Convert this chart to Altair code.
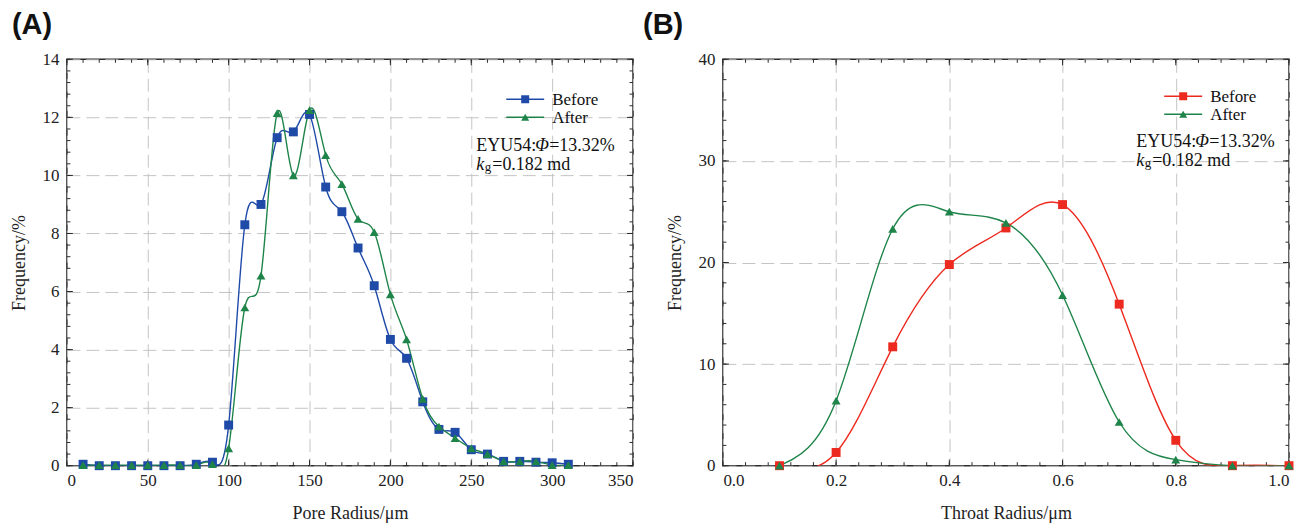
import altair as alt
import pandas as pd

# ---------------- data ----------------
series = ["Before", "After"]

pore_radius = [10, 20, 30, 40, 50, 60, 70, 80, 90, 100, 110, 120, 130, 140, 150, 160,
               170, 180, 190, 200, 210, 220, 230, 240, 250, 260, 270, 280, 290, 300, 310]
pore_before = [0.05, 0.0, 0.0, 0.0, 0.0, 0.0, 0.0, 0.05, 0.12, 1.4, 8.3, 9.0, 11.3, 11.5, 12.1, 9.6,
               8.75, 7.5, 6.2, 4.35, 3.7, 2.2, 1.25, 1.15, 0.55, 0.4, 0.15, 0.15, 0.12, 0.1, 0.05]
pore_after = [0.02, 0.02, 0.02, 0.02, 0.02, 0.02, 0.02, 0.02, 0.05, 0.6, 5.45, 6.55, 12.15, 10.0, 12.25, 10.7,
              9.7, 8.5, 8.05, 5.9, 4.35, 2.3, 1.35, 0.95, 0.6, 0.4, 0.15, 0.15, 0.15, 0.02, 0.02]

throat_radius = [0.1, 0.2, 0.3, 0.4, 0.5, 0.6, 0.7, 0.8, 0.9, 1.0]
throat_before = [0.0, 1.3, 11.7, 19.8, 23.4, 25.7, 15.9, 2.5, 0.0, 0.0]
throat_after = [0.0, 6.4, 23.3, 25.0, 23.9, 16.8, 4.3, 0.6, 0.0, 0.0]

pore_xticks = [0, 50, 100, 150, 200, 250, 300, 350]
pore_yticks = [0, 2, 4, 6, 8, 10, 12, 14]
throat_xticks = [0.0, 0.2, 0.4, 0.6, 0.8, 1.0]
throat_yticks = [0, 10, 20, 30, 40]

pore_xminor = [v for v in range(0, 351, 10)]
pore_yminor = [round(v * 0.4, 2) for v in range(0, 36)]
throat_xminor = [round(v * 0.04, 2) for v in range(0, 26)]
throat_yminor = [v for v in range(0, 41, 2)]

W, H = 567, 407
SERIF = "Liberation Serif"
FRAME = "#2b2b2b"
SHAPES = {"Before": "square", "After": "triangle-up"}


def panel(x, before, after, colors, xdomain, ydomain, xmaj, xmin, ymaj, ymin,
          xtitle, xfmt, label, label_dx, leg_cx, leg_cy, ann_x, ann_y):
    df = pd.DataFrame({
        "x": list(x) * 2,
        "y": list(before) + list(after),
        "series": ["Before"] * len(x) + ["After"] * len(x),
    })
    xs = alt.Scale(domain=xdomain, nice=False, zero=False)
    ys = alt.Scale(domain=ydomain, nice=False, zero=False)
    cscale = alt.Scale(domain=series, range=colors)
    cmap = dict(zip(series, colors))

    xaxis = alt.Axis(values=xmaj, format=xfmt, title=xtitle, grid=True, ticks=False,
                     domain=False, labelPadding=7, titlePadding=16)
    yaxis = alt.Axis(values=ymaj, format="d", title="Frequency/%", grid=True, ticks=False,
                     domain=False, labelPadding=8, titlePadding=13)

    base = alt.Chart(df)
    line = base.mark_line(interpolate="natural", clip=True, strokeWidth=1.4).encode(
        x=alt.X("x:Q", scale=xs, axis=xaxis),
        y=alt.Y("y:Q", scale=ys, axis=yaxis),
        color=alt.Color("series:N", scale=cscale, legend=None),
    )
    pts = []
    for s in series:
        pts.append(base.transform_filter(alt.datum.series == s).mark_point(
            filled=True, opacity=1, shape=SHAPES[s], size=80).encode(
            x=alt.X("x:Q", scale=xs, axis=xaxis),
            y=alt.Y("y:Q", scale=ys, axis=yaxis),
            color=alt.Color("series:N", scale=cscale, legend=None),
        ))

    tick_layers = []
    for vals, L in [(xmaj, 6), (xmin, 3.5)]:
        c = alt.Chart(pd.DataFrame({"v": vals}))
        tick_layers.append(c.mark_rule(color=FRAME, strokeWidth=1).encode(
            x=alt.X("v:Q", scale=xs, axis=xaxis), y=alt.value(H), y2=alt.value(H - L)))
        tick_layers.append(c.mark_rule(color=FRAME, strokeWidth=1).encode(
            x=alt.X("v:Q", scale=xs, axis=xaxis), y=alt.value(0), y2=alt.value(L)))
    for vals, L in [(ymaj, 6), (ymin, 3.5)]:
        c = alt.Chart(pd.DataFrame({"v": vals}))
        tick_layers.append(c.mark_rule(color=FRAME, strokeWidth=1).encode(
            y=alt.Y("v:Q", scale=ys, axis=yaxis), x=alt.value(0), x2=alt.value(L)))
        tick_layers.append(c.mark_rule(color=FRAME, strokeWidth=1).encode(
            y=alt.Y("v:Q", scale=ys, axis=yaxis), x=alt.value(W), x2=alt.value(W - L)))

    one = alt.Chart(pd.DataFrame({"k": [0]}))

    def txt(s, dx, dy, size=18, style="normal", font=SERIF, weight="normal", baseline="alphabetic"):
        return one.mark_text(text=s, align="left", baseline=baseline, font=font,
                             fontSize=size, fontStyle=style, fontWeight=weight,
                             color="#111").encode(x=alt.value(dx), y=alt.value(dy))

    # legend (drawn inside the plot, top right)
    legend_layers = []
    for i, s in enumerate(series):
        cy = leg_cy + i * 18
        legend_layers.append(one.mark_rule(color=cmap[s], strokeWidth=1.5).encode(
            x=alt.value(leg_cx - 19), x2=alt.value(leg_cx + 19), y=alt.value(cy)))
        legend_layers.append(one.mark_point(filled=True, opacity=1, shape=SHAPES[s], size=64,
                                            color=cmap[s]).encode(
            x=alt.value(leg_cx), y=alt.value(cy)))
        legend_layers.append(txt(s, leg_cx + 27, cy + 1, size=17, baseline="middle"))

    ax, ay = ann_x, ann_y
    ann = [
        txt("EYU54:", ax, ay),
        txt("\u03a6", ax + 59, ay, style="italic"),
        txt("=13.32%", ax + 73, ay),
        txt("k", ax, ay + 19, style="italic"),
        txt("g", ax + 8.5, ay + 20, size=13),
        txt("=0.182 md", ax + 16, ay + 19),
        txt(label, label_dx, -25, size=29, font="Liberation Sans", weight="bold"),
    ]

    return alt.layer(*tick_layers, line, *pts, *legend_layers, *ann).properties(
        width=W, height=H)


pA = panel(pore_radius, pore_before, pore_after, ["#1f4aa8", "#1e8449"],
           [0, 350], [0, 14], pore_xticks, pore_xminor, pore_yticks, pore_yminor,
           "Pore Radius/\u03bcm", "d", "(A)", -55, 459, 40, 410, 92)
pB = panel(throat_radius, throat_before, throat_after, ["#ec2a1f", "#1e8449"],
           [0, 1.0], [0, 40], throat_xticks, throat_xminor, throat_yticks, throat_yminor,
           "Throat Radius/\u03bcm", ".1f", "(B)", -80, 461, 37, 414, 88)

chart = alt.hconcat(pA, pB, spacing=90, bounds="flush").resolve_scale(
    color="independent"
).properties(
    padding={"left": 10, "top": 10, "right": 5, "bottom": 5},
    background="white",
).configure_view(
    stroke=FRAME, strokeWidth=1.5
).configure_axis(
    labelFont=SERIF, labelFontSize=17, labelColor="#222",
    titleFont=SERIF, titleFontSize=18, titleFontWeight="normal", titleColor="#222",
    gridColor="#c4c4c4", gridDash=[13, 6], gridWidth=1,
)

chart.save("out.html", embed_options={"renderer": "svg", "actions": False})
